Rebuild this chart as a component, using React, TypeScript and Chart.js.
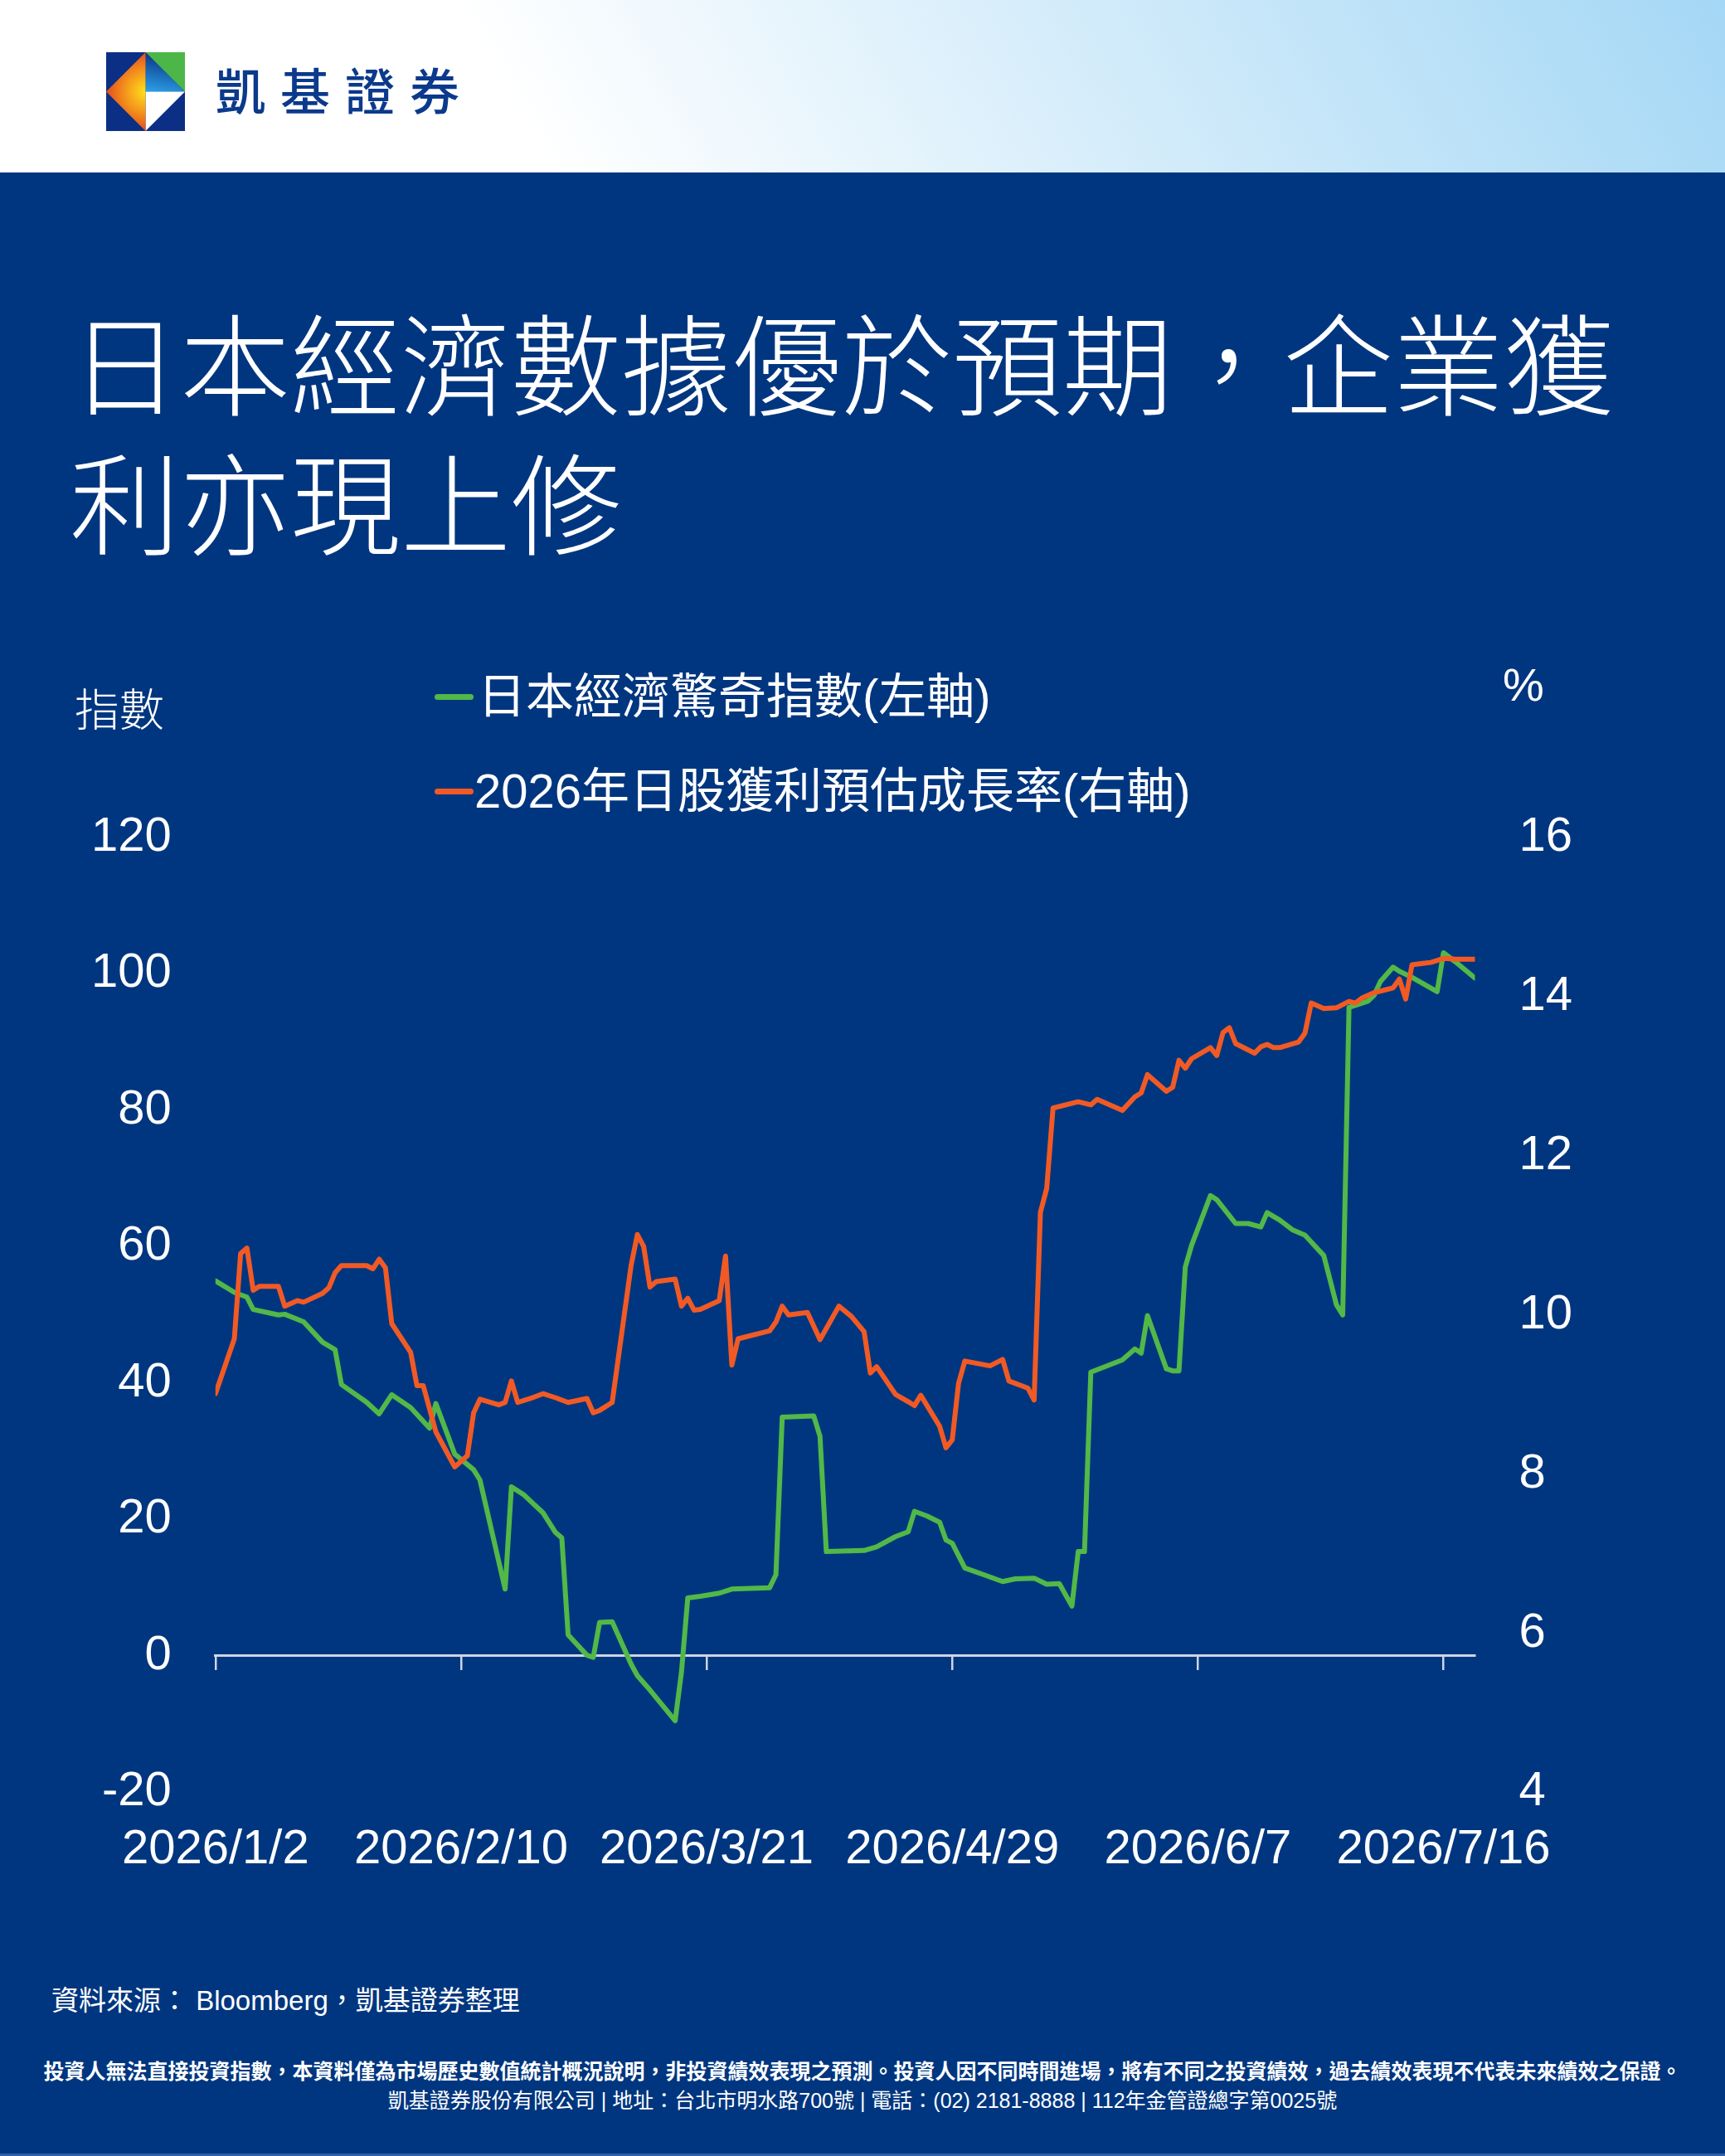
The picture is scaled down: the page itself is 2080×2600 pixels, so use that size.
import { useEffect, useRef } from "react";
import { Chart, registerables } from "chart.js";

Chart.register(...registerables);

// x values are day offsets counted from 2026/1/2
const surpriseDays = [
  0, 3, 5, 6, 10, 11, 14, 17, 19, 20,
  24, 26, 28, 31, 32, 34, 35, 38, 41, 42,
  46, 47, 49, 52, 54, 55, 56, 59, 60, 61,
  63, 66, 67, 69, 73, 74, 75, 77, 80, 82,
  88, 89, 90, 95, 96, 97, 103, 105, 108, 110,
  111, 113, 115, 116, 117, 119, 122, 125, 127, 130,
  132, 134, 136, 137, 138, 139, 144, 146, 147, 148,
  151, 152, 153, 154, 155, 158, 159, 162, 164, 166,
  167, 169, 171, 173, 174, 176, 178, 179, 180, 183,
  184, 185, 187, 188, 190, 194, 195, 197, 200,
];
const surpriseValues = [
  55.0, 53.3, 52.6, 50.8, 50.0, 50.1, 49.0, 46.0, 44.9, 39.8,
  37.2, 35.5, 38.3, 36.4, 35.4, 33.4, 37.0, 29.6, 27.3, 25.8,
  9.8, 24.8, 23.6, 21.0, 18.1, 17.3, 3.1, 0.1, -0.2, 4.9,
  5.0, -1.2, -2.9, -5.0, -9.5, -2.4, 8.5, 8.75, 9.2, 9.8,
  10.0, 11.9, 35.0, 35.2, 32.2, 15.3, 15.45, 16.0, 17.5, 18.2,
  21.2, 20.5, 19.6, 17.0, 16.5, 12.9, 11.9, 10.9, 11.3, 11.4,
  10.5, 10.6, 7.3, 15.3, 15.3, 41.6, 43.4, 45.0, 44.4, 49.9,
  42.1, 41.8, 41.8, 57.0, 60.2, 67.5, 66.9, 63.4, 63.4, 62.9,
  65.0, 63.9, 62.5, 61.7, 60.7, 58.7, 51.5, 50.0, 95.1, 96.0,
  96.9, 98.9, 101.0, 100.4, 99.5, 97.4, 103.1, 101.7, 99.4,
];

const profitDays = [
  0, 3, 4, 5, 6, 7, 10, 11, 13, 14,
  17, 18, 19, 20, 24, 25, 26, 27, 28, 31,
  32, 33, 35, 38, 40, 41, 42, 45, 46, 47,
  48, 50, 52, 54, 56, 59, 60, 61, 63, 66,
  67, 68, 69, 70, 73, 74, 75, 76, 77, 80,
  81, 82, 83, 88, 89, 90, 91, 94, 96, 99,
  101, 103, 104, 105, 108, 110, 111, 112, 115, 116,
  117, 118, 119, 123, 125, 126, 129, 130, 131, 132,
  133, 137, 139, 140, 144, 146, 147, 148, 151, 152,
  153, 154, 155, 158, 159, 160, 161, 162, 165, 166,
  167, 168, 169, 172, 173, 174, 176, 178, 180, 181,
  182, 184, 186, 187, 188, 189, 190, 192, 193, 195,
  197, 200,
];
const profitValues = [
  9.01, 9.7, 10.77, 10.84, 10.31, 10.36, 10.36, 10.11, 10.18, 10.16,
  10.27, 10.34, 10.53, 10.62, 10.62, 10.58, 10.7, 10.59, 9.89, 9.53,
  9.11, 9.11, 8.53, 8.09, 8.23, 8.77, 8.94, 8.87, 8.9, 9.17,
  8.9, 8.95, 9.01, 8.96, 8.9, 8.95, 8.77, 8.8, 8.9, 10.62,
  11.01, 10.86, 10.35, 10.42, 10.45, 10.11, 10.21, 10.06, 10.07, 10.18,
  10.74, 9.37, 9.7, 9.8, 9.91, 10.11, 10.0, 10.03, 9.69, 10.11,
  9.98, 9.79, 9.27, 9.35, 9.0, 8.91, 8.86, 8.99, 8.6, 8.33,
  8.43, 9.14, 9.42, 9.36, 9.44, 9.17, 9.08, 8.93, 11.29, 11.59,
  12.6, 12.68, 12.64, 12.71, 12.57, 12.74, 12.79, 13.02, 12.81, 12.86,
  13.2, 13.1, 13.22, 13.36, 13.26, 13.55, 13.61, 13.41, 13.29, 13.37,
  13.4, 13.36, 13.36, 13.43, 13.54, 13.92, 13.85, 13.86, 13.94, 13.92,
  13.98, 14.05, 14.09, 14.11, 14.22, 13.97, 14.4, 14.42, 14.43, 14.48,
  14.47, 14.47,
];

const xTickDays = [0, 39, 78, 117, 156, 195];
const xTickLabels = ["2026/1/2", "2026/2/10", "2026/3/21", "2026/4/29", "2026/6/7", "2026/7/16"];
const seriesNames = ["日本經濟驚奇指數(左軸)", "2026年日股獲利預估成長率(右軸)"];

const NAVY = "#00367f";
const GREEN = "#52b848";
const ORANGE = "#f15a24";
const AXIS = "#cdd5e5";
const LATIN = "'Liberation Sans', Arial, 'Noto Sans CJK TC', sans-serif";
const CJK = "'Liberation Sans', 'Noto Sans CJK TC', sans-serif";

function SurpriseChart() {
  const canvasRef = useRef<HTMLCanvasElement>(null);

  useEffect(() => {
    if (!canvasRef.current) return;
    const tickFont = { family: LATIN, size: 58 };
    const fixTicks = (axis: any) => {
      axis.ticks = xTickDays.map((v) => ({ value: v }));
    };

    const chart = new Chart(canvasRef.current, {
      type: "line",
      data: {
        datasets: [
          {
            label: seriesNames[1],
            data: profitDays.map((d, i) => ({ x: d, y: profitValues[i] })),
            xAxisID: "x",
            yAxisID: "y1",
            borderColor: ORANGE,
            borderWidth: 6,
            pointRadius: 0,
            borderJoinStyle: "round",
            borderCapStyle: "round",
            order: 0,
          },
          {
            label: seriesNames[0],
            data: surpriseDays.map((d, i) => ({ x: d, y: surpriseValues[i] })),
            xAxisID: "x",
            yAxisID: "y",
            borderColor: GREEN,
            borderWidth: 6,
            pointRadius: 0,
            borderJoinStyle: "round",
            borderCapStyle: "round",
            order: 1,
          },
        ],
      },
      options: {
        animation: false,
        responsive: true,
        maintainAspectRatio: false,
        // chart area: left 260, right 1778, top 1007, bottom 2158 on the page
        layout: { padding: { left: 57, right: 131, top: 100, bottom: 20 } },
        plugins: { legend: { display: false }, tooltip: { enabled: false } },
        scales: {
          x: {
            type: "linear",
            position: "bottom",
            min: 0,
            max: 200,
            afterBuildTicks: fixTicks,
            grid: { display: false, drawTicks: false },
            border: { display: false },
            ticks: {
              color: "#ffffff",
              font: tickFont,
              padding: 35,
              maxRotation: 0,
              autoSkip: false,
              callback: (value: any) => xTickLabels[xTickDays.indexOf(Number(value))] ?? "",
            },
          },
          xZero: {
            type: "linear",
            position: { y: 0 },
            min: 0,
            max: 200,
            afterBuildTicks: fixTicks,
            grid: { drawOnChartArea: false, drawTicks: true, tickLength: 16, color: AXIS, lineWidth: 2.5 },
            border: { display: true, color: AXIS, width: 3 },
            ticks: { display: false },
          },
          y: {
            type: "linear",
            position: "left",
            min: -20,
            max: 120,
            grid: { display: false, drawTicks: false },
            border: { display: false },
            ticks: { stepSize: 20, color: "#ffffff", font: tickFont, padding: 53 },
          },
          y1: {
            type: "linear",
            position: "right",
            min: 4,
            max: 16,
            grid: { display: false, drawTicks: false },
            border: { display: false },
            ticks: { stepSize: 2, color: "#ffffff", font: tickFont, padding: 53 },
          },
        },
      },
    } as any);

    return () => chart.destroy();
  }, []);

  return (
    <div style={{ position: "absolute", left: 0, top: 910, width: 2080, height: 1411 }}>
      <canvas ref={canvasRef} />
    </div>
  );
}

function Logo() {
  return (
    <svg width="95" height="95" viewBox="0 0 96 96" style={{ position: "absolute", left: 128, top: 63 }}>
      <defs>
        <radialGradient id="warm" cx="48" cy="48" r="52" gradientUnits="userSpaceOnUse">
          <stop offset="0" stopColor="#ffe11a" />
          <stop offset="0.45" stopColor="#f59a1c" />
          <stop offset="1" stopColor="#e2401d" />
        </radialGradient>
        <linearGradient id="cool" x1="0.3" y1="0" x2="0.1" y2="1">
          <stop offset="0" stopColor="#0a2f80" />
          <stop offset="1" stopColor="#2aa0e6" />
        </linearGradient>
      </defs>
      <rect width="96" height="96" fill="#0a2f84" />
      <polygon points="48,0 96,0 96,48" fill="#4cb748" />
      <polygon points="48,0 96,48 48,48" fill="url(#cool)" />
      <polygon points="48,48 96,48 48,96" fill="#ffffff" />
      <polygon points="48,0 0,48 48,96" fill="url(#warm)" />
    </svg>
  );
}

function LegendRow({ color, text, top, left }: { color: string; text: string; top: number; left: number }) {
  return (
    <div style={{ position: "absolute", left: 524, top: top - 40, height: 80, display: "flex", alignItems: "center" }}>
      <div style={{ width: 47, height: 7, borderRadius: 4, background: color }} />
      <div style={{ marginLeft: left - 571, fontSize: 58, lineHeight: "80px", color: "#fff", fontFamily: CJK, whiteSpace: "nowrap" }}>
        {text}
      </div>
    </div>
  );
}

export default function App() {
  useEffect(() => {
    document.body.style.margin = "0";
  }, []);

  return (
    <div
      style={{
        position: "relative",
        width: 2080,
        height: 2600,
        overflow: "hidden",
        background: NAVY,
        fontFamily: "'Noto Sans CJK TC', sans-serif",
        color: "#fff",
      }}
    >
      <div
        style={{
          position: "absolute",
          left: 0,
          top: 0,
          width: 2080,
          height: 208,
          background: "linear-gradient(60deg, #ffffff 30%, #a4d7f5 100%)",
        }}
      />
      <Logo />
      <div
        style={{
          position: "absolute",
          left: 260,
          top: 77,
          fontSize: 60,
          lineHeight: "60px",
          letterSpacing: 18,
          fontWeight: 500,
          color: "#0b3a8c",
          whiteSpace: "nowrap",
        }}
      >
        凱基證券
      </div>

      <div style={{ position: "absolute", left: 84, top: 349, fontSize: 133, lineHeight: "168px", fontWeight: 300, whiteSpace: "nowrap" }}>
        <div>日本經濟數據優於預期，企業獲</div>
        <div>利亦現上修</div>
      </div>

      <div style={{ position: "absolute", left: 90, top: 853 - 40, fontSize: 54, lineHeight: "80px", fontWeight: 300 }}>指數</div>
      <div style={{ position: "absolute", left: 1812, top: 826 - 40, fontSize: 56, lineHeight: "80px", fontFamily: LATIN }}>%</div>
      <LegendRow color={GREEN} text={seriesNames[0]} top={840} left={576} />
      <LegendRow color={ORANGE} text={seriesNames[1]} top={954} left={572} />

      <SurpriseChart />

      <div style={{ position: "absolute", left: 62, top: 2413 - 25, fontSize: 33, lineHeight: "50px", fontFamily: CJK, whiteSpace: "nowrap" }}>
        資料來源： Bloomberg，凱基證券整理
      </div>
      <div
        style={{
          position: "absolute",
          left: 0,
          width: 2080,
          top: 2496 - 18,
          fontSize: 25,
          lineHeight: "36px",
          fontWeight: 700,
          textAlign: "center",
          whiteSpace: "nowrap",
        }}
      >
        投資人無法直接投資指數，本資料僅為市場歷史數值統計概況說明，非投資績效表現之預測。投資人因不同時間進場，將有不同之投資績效，過去績效表現不代表未來績效之保證。
      </div>
      <div
        style={{
          position: "absolute",
          left: 0,
          width: 2080,
          top: 2533 - 18,
          fontSize: 25,
          lineHeight: "36px",
          textAlign: "center",
          fontFamily: CJK,
          whiteSpace: "nowrap",
        }}
      >
        凱基證券股份有限公司 | 地址：台北市明水路700號 | 電話：(02) 2181-8888 | 112年金管證總字第0025號
      </div>
      <div style={{ position: "absolute", left: 0, top: 2597, width: 2080, height: 3, background: "#2f5fa8" }} />
    </div>
  );
}
